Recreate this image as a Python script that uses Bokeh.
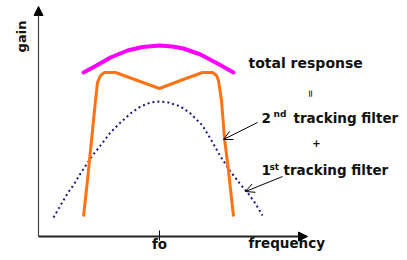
from bokeh.plotting import figure
from bokeh.models import Range1d, Arrow, NormalHead, OpenHead
from bokeh.core.properties import value
from bokeh.embed import file_html
from bokeh.resources import INLINE
import math

# frequency offset from fo (arbitrary units) and gain (arbitrary units)
total_f = [-7.6, -6.3, -4.9, -3.2, -1.7, 0.0, 1.3, 2.4, 4.1, 5.8, 7.4]
total_g = [16.4, 17.1, 17.9, 18.6, 18.95, 19.1, 19.0, 18.8, 18.2, 17.3, 16.4]

second_f = [-7.6, -7.2, -6.8, -6.4, -6.2, -5.9, -5.5, -4.4, -2.2, 0.0, 2.1, 4.3, 5.3, 5.7, 5.9, 6.2, 6.5, 6.9, 7.4]
second_g = [2.0, 5.6, 9.6, 13.6, 15.4, 16.1, 16.4, 16.4, 15.6, 14.8, 15.6, 16.4, 16.4, 16.1, 15.6, 13.6, 9.8, 6.6, 2.0]

first_f = [-10.6, -9.9, -9.2, -8.5, -7.9, -7.3, -6.7, -5.9, -4.9, -3.9, -2.9, -1.9, -0.9, 0.0,
           0.9, 2.1, 3.1, 4.3, 5.2, 6.1, 7.1, 8.1, 8.8, 9.6, 10.3]
first_g = [1.9, 3.1, 4.3, 5.3, 6.3, 7.2, 8.1, 9.1, 10.4, 11.4, 12.3, 13.0, 13.4, 13.5,
           13.4, 13.0, 12.3, 11.1, 9.6, 8.0, 6.5, 5.2, 4.4, 3.3, 2.1]

fo_tick = [0.0]
tick_labels = ["fo"]
axis_labels = ["frequency", "gain"]
curve_labels = ["total response", "=", "2", "nd", "tracking filter", "+", "1", "st", "tracking filter"]

FONT = value("DejaVu Sans")

p = figure(width=399, height=252, output_backend="svg", toolbar_location=None,
           x_range=Range1d(-15.9, 24.0), y_range=Range1d(-1.6, 23.6),
           min_border=0)
p.xaxis.visible = False
p.yaxis.visible = False
p.xgrid.visible = False
p.ygrid.visible = False
p.outline_line_color = None
p.background_fill_color = "white"
p.border_fill_color = "white"

# axes with arrow heads
p.add_layout(Arrow(x_start=-12.1, y_start=0, x_end=-12.1, y_end=23.0,
                   line_color="#444444", line_width=1.2,
                   end=NormalHead(size=9, fill_color="black", line_color="black")))
p.add_layout(Arrow(x_start=-12.1, y_start=0, x_end=14.8, y_end=0,
                   line_color="#222222", line_width=1.8,
                   end=NormalHead(size=9, fill_color="black", line_color="black")))

# fo tick
p.segment(x0=fo_tick, y0=[0.6], x1=fo_tick, y1=[-0.4], line_color="black", line_width=1)
p.text(x=fo_tick, y=[-0.7], text=tick_labels, text_align="center", text_baseline="alphabetic",
       text_font=FONT, text_font_style="bold", text_font_size="13.5px", text_color="#111111")

p.text(x=[8.9], y=[-0.6], text=[axis_labels[0]], text_align="left", text_baseline="alphabetic",
       text_font=FONT, text_font_style="bold", text_font_size="13.5px", text_color="#111111")
p.text(x=[-13.8], y=[20.0], text=[axis_labels[1]], angle=math.pi / 2, text_align="center",
       text_baseline="middle", text_font=FONT, text_font_style="bold", text_font_size="13px",
       text_color="#111111")

# curves
p.line(first_f, first_g, line_color="#1a1a80", line_width=2, line_dash="2 3")
p.line(second_f, second_g, line_color="#ff7315", line_width=3, line_join="round")
p.line(total_f, total_g, line_color="#ff00ff", line_width=4, line_cap="round", line_join="round")

# labels
def lab(x, y, t, size, bold=True, angle=0.0, align="left", base="alphabetic"):
    p.text(x=[x], y=[y], text=[t], angle=angle, text_align=align, text_baseline=base,
           text_font=FONT, text_font_style="bold" if bold else "normal",
           text_font_size=size, text_color="#111111")

lab(8.9, 17.4, curve_labels[0], "14px")
lab(15.1, 14.3, curve_labels[1], "10px", bold=False, angle=math.pi / 2, align="center", base="middle")
lab(10.2, 11.9, curve_labels[2], "13.5px")
lab(11.4, 12.3, curve_labels[3], "9px")
lab(13.4, 11.9, curve_labels[4], "13.5px")
lab(15.7, 9.4, curve_labels[5], "10px", align="center", base="middle")
lab(10.2, 6.7, curve_labels[6], "13.5px")
lab(11.0, 7.0, curve_labels[7], "9px")
lab(12.4, 6.7, curve_labels[8], "13.5px")

# pointer arrows
p.add_layout(Arrow(x_start=9.8, y_start=11.4, x_end=6.4, y_end=9.7, line_color="black", line_width=1,
                   end=OpenHead(size=9, line_color="black", line_width=1)))
p.add_layout(Arrow(x_start=12.3, y_start=6.0, x_end=8.6, y_end=4.5, line_color="black", line_width=1,
                   end=OpenHead(size=9, line_color="black", line_width=1)))

open("out.html", "w").write(file_html(p, INLINE))
